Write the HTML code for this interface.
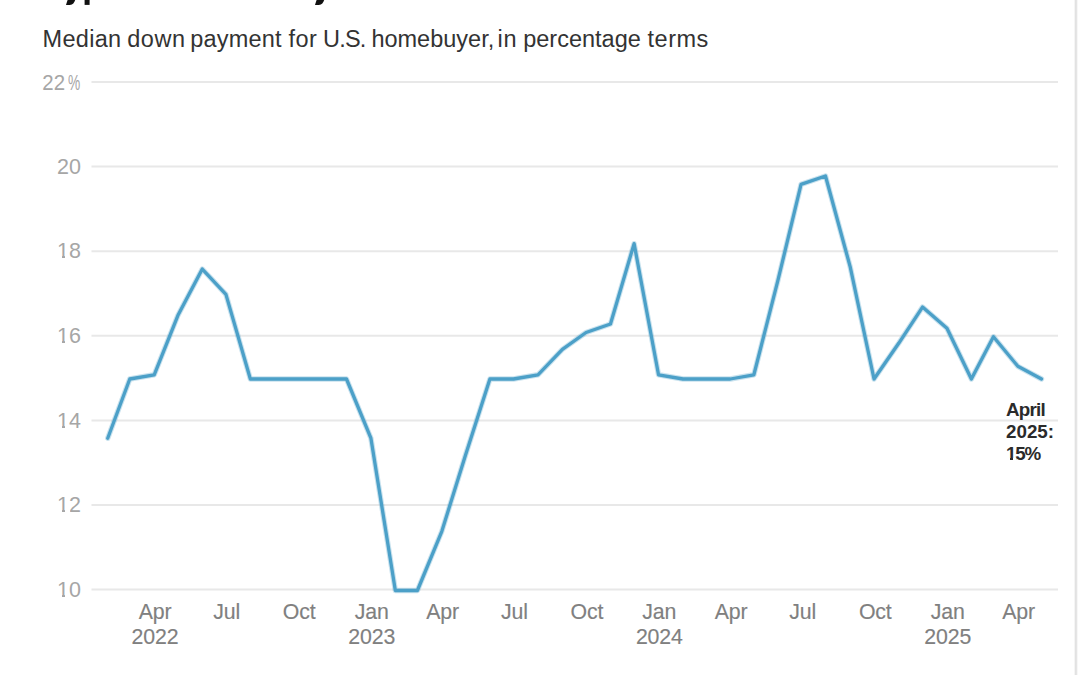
<!DOCTYPE html>
<html><head><meta charset="utf-8"><style>
html,body{margin:0;padding:0;background:#fff;}
body{width:1080px;height:675px;position:relative;overflow:hidden;font-family:"Liberation Sans",sans-serif;}
.sub{position:absolute;left:42.8px;top:25.2px;font-size:23.5px;color:#333;white-space:nowrap;line-height:28px;}
.yl{position:absolute;right:999px;width:60px;text-align:right;font-size:21.5px;line-height:22px;color:#a6a6a6;}
.xl{position:absolute;top:599.9px;width:80px;text-align:center;font-size:21.3px;line-height:25.2px;color:#808080;letter-spacing:-0.15px;-webkit-text-stroke:0.15px #808080;}
.ann{position:absolute;left:1006px;top:398.5px;font-size:18.8px;line-height:22px;font-weight:bold;color:#2b2b2b;}
svg{position:absolute;left:0;top:0;}
.w{position:absolute;top:0;}
.o{position:relative;}
.o::after{content:"";position:absolute;left:-1px;right:-0.5px;bottom:4.95px;height:2.8px;background:linear-gradient(to right,#fff 0,#fff 6.15px,rgba(255,255,255,0) 6.15px,rgba(255,255,255,0) 8.55px,#fff 8.55px);}
.ob::after{bottom:3.2px;height:2.7px;right:-0.6px;background:linear-gradient(to right,#fff 0,#fff 4.6px,rgba(255,255,255,0) 4.6px,rgba(255,255,255,0) 8.1px,#fff 8.1px);}
.pc{position:absolute;left:67.5px;font-size:21.5px;line-height:22px;color:#a6a6a6;transform:scaleX(0.64);transform-origin:0 0;}
.vr{position:absolute;left:1074px;top:0;width:4px;height:675px;background:linear-gradient(to right,#f5f5f5 0,#f5f5f5 1px,#e2e2e2 1px,#e2e2e2 2px,#e5e5e5 2px,#e5e5e5 3px,#f7f7f7 3px);}
</style></head><body>
<svg width="1080" height="675" viewBox="0 0 1080 675">
<g stroke="#e8e8e8" stroke-width="2" fill="none">
<line x1="91.5" x2="1058" y1="82.00" y2="82.00" />
<line x1="91.5" x2="1058" y1="166.60" y2="166.60" />
<line x1="91.5" x2="1058" y1="251.20" y2="251.20" />
<line x1="91.5" x2="1058" y1="335.80" y2="335.80" />
<line x1="91.5" x2="1058" y1="420.40" y2="420.40" />
<line x1="91.5" x2="1058" y1="505.00" y2="505.00" />
<line x1="91.5" x2="1058" y1="589.60" y2="589.60" />
</g>
<path d="M107.72,438.22 L129.78,379.00 L154.21,374.77 L177.85,315.55 L202.28,269.02 L225.92,294.40 L250.35,379.00 L274.78,379.00 L298.42,379.00 L322.84,379.00 L346.48,379.00 L370.91,438.22 L395.34,590.50 L417.40,590.50 L441.83,531.28 L465.47,455.14 L489.90,379.00 L513.54,379.00 L537.97,374.77 L562.40,349.39 L586.04,332.47 L610.46,324.01 L634.10,243.64 L658.53,374.77 L682.96,379.00 L705.81,379.00 L730.24,379.00 L753.88,374.77 L777.91,280.44 L801.05,184.42 L825.48,175.96 L850.20,266.91 L874.04,379.00 L898.87,343.05 L922.51,307.09 L946.94,328.24 L971.37,379.00 L993.43,336.70 L1017.86,366.31 L1041.50,379.00" fill="none" stroke="#4ca0c8" stroke-opacity="0.3" stroke-width="5.4" stroke-linejoin="round" stroke-linecap="round"/>
<path d="M107.72,438.22 L129.78,379.00 L154.21,374.77 L177.85,315.55 L202.28,269.02 L225.92,294.40 L250.35,379.00 L274.78,379.00 L298.42,379.00 L322.84,379.00 L346.48,379.00 L370.91,438.22 L395.34,590.50 L417.40,590.50 L441.83,531.28 L465.47,455.14 L489.90,379.00 L513.54,379.00 L537.97,374.77 L562.40,349.39 L586.04,332.47 L610.46,324.01 L634.10,243.64 L658.53,374.77 L682.96,379.00 L705.81,379.00 L730.24,379.00 L753.88,374.77 L777.91,280.44 L801.05,184.42 L825.48,175.96 L850.20,266.91 L874.04,379.00 L898.87,343.05 L922.51,307.09 L946.94,328.24 L971.37,379.00 L993.43,336.70 L1017.86,366.31 L1041.50,379.00" fill="none" stroke="#4ca0c8" stroke-width="3.3" stroke-linejoin="round" stroke-linecap="round"/>
<g fill="#111">
<path d="M67.6,0 L75.2,0 C74.4,2.6 72.8,4.9 69.8,4.9 L66,4.9 C66.5,3.2 67,1.6 67.6,0 Z"/>
<rect x="84.6" y="0" width="5" height="4.9"/>
<path d="M316.6,0 L324.2,0 C323.4,2.6 321.8,4.9 318.8,4.9 L315,4.9 C315.5,3.2 316,1.6 316.6,0 Z"/>
</g>
</svg>
<div class="sub"><span class="w" style="left:-0.2px;letter-spacing:0.3px">Median</span><span class="w" style="left:84.4px;letter-spacing:0.6px">down</span><span class="w" style="left:147.4px;letter-spacing:0.2px">payment</span><span class="w" style="left:245.7px;letter-spacing:0.5px">for</span><span class="w" style="left:280.3px;letter-spacing:-0.8px">U.S.</span><span class="w" style="left:328.6px;letter-spacing:0px">homebuyer,</span><span class="w" style="left:454.6px;letter-spacing:0.9px">in</span><span class="w" style="left:480.4px;letter-spacing:0px">percentage</span><span class="w" style="left:604.8px;letter-spacing:0.5px">terms</span></div>
<div class="yl" style="top:71.50px;right:1014.8px;transform:scaleX(0.95);transform-origin:100% 0">22</div><div class="pc" style="top:71.50px">%</div>
<div class="yl" style="top:155.85px">20</div>
<div class="yl" style="top:240.45px"><span class="o">1</span>8</div>
<div class="yl" style="top:325.05px"><span class="o">1</span>6</div>
<div class="yl" style="top:409.65px"><span class="o">1</span>4</div>
<div class="yl" style="top:494.25px"><span class="o">1</span>2</div>
<div class="yl" style="top:578.85px"><span class="o">1</span>0</div>
<div class="xl" style="left:115.00px">Apr<br>2022</div>
<div class="xl" style="left:186.71px">Jul</div>
<div class="xl" style="left:259.20px">Oct</div>
<div class="xl" style="left:331.70px">Jan<br>2023</div>
<div class="xl" style="left:402.62px">Apr</div>
<div class="xl" style="left:474.33px">Jul</div>
<div class="xl" style="left:546.82px">Oct</div>
<div class="xl" style="left:619.32px">Jan<br>2024</div>
<div class="xl" style="left:691.03px">Apr</div>
<div class="xl" style="left:762.74px">Jul</div>
<div class="xl" style="left:835.23px">Oct</div>
<div class="xl" style="left:907.73px">Jan<br>2025</div>
<div class="xl" style="left:978.65px">Apr</div>
<div class="ann"><span style="letter-spacing:-0.75px">April</span><br>2025:<br><span style="letter-spacing:-1.2px"><span class="o ob">1</span>5%</span></div>
<div class="vr"></div>
</body></html>
